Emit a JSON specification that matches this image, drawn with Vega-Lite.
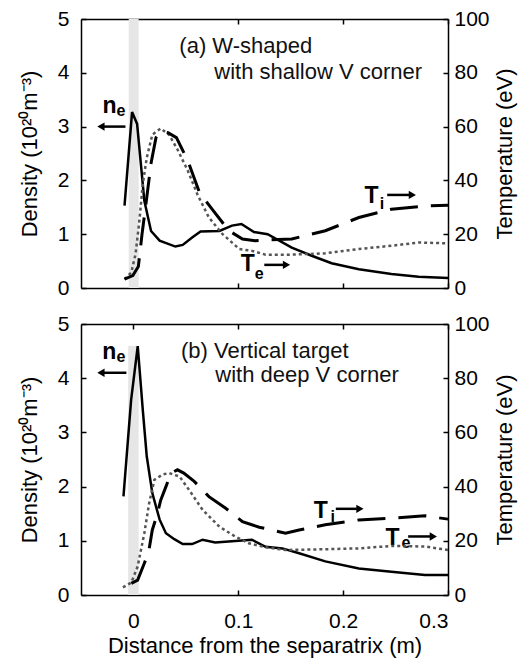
{
  "$schema": "https://vega.github.io/schema/vega-lite/v6.json",
  "padding": {"left": 18, "top": 8, "right": 5, "bottom": 2},
  "background": "white",
  "config": {
    "font": "Liberation Sans",
    "view": {"stroke": null},
    "axis": {
      "grid": false, "labelFontSize": 21, "titleFontSize": 22, "titleFontWeight": "normal",
      "labelColor": "black", "titleColor": "black", "domainColor": "black", "tickColor": "black",
      "tickSize": -5, "domainWidth": 1.5, "tickWidth": 1.5, "labelFont": "Liberation Sans", "titleFont": "Liberation Sans"
    },
    "axisLeft": {"labelPadding": 17, "titlePadding": 16},
    "axisRight": {"labelPadding": 11, "titlePadding": 27},
    "axisBottom": {"labelPadding": 20, "titlePadding": 4}
  },
  "datasets": {
    "a_ne": [
      {"x": -0.0085, "y": 1.53}, {"x": -0.0013, "y": 3.27}, {"x": 0.0035, "y": 3.05}, {"x": 0.0104, "y": 1.62},
      {"x": 0.0168, "y": 1.06}, {"x": 0.025, "y": 0.88}, {"x": 0.04, "y": 0.77}, {"x": 0.047, "y": 0.8},
      {"x": 0.056, "y": 0.94}, {"x": 0.064, "y": 1.05}, {"x": 0.082, "y": 1.06}, {"x": 0.094, "y": 1.16},
      {"x": 0.103, "y": 1.19}, {"x": 0.115, "y": 1.04}, {"x": 0.128, "y": 1.0}, {"x": 0.151, "y": 0.75},
      {"x": 0.17, "y": 0.6}, {"x": 0.189, "y": 0.46}, {"x": 0.215, "y": 0.35}, {"x": 0.246, "y": 0.26},
      {"x": 0.272, "y": 0.21}, {"x": 0.3, "y": 0.185}
    ],
    "a_te": [
      {"x": -0.0085, "T": 3.3}, {"x": -0.002, "T": 5.8}, {"x": 0.002, "T": 12.6}, {"x": 0.0057, "T": 25},
      {"x": 0.0089, "T": 38.6}, {"x": 0.0127, "T": 48.4}, {"x": 0.018, "T": 57}, {"x": 0.026, "T": 59.3},
      {"x": 0.034, "T": 57}, {"x": 0.042, "T": 51.5}, {"x": 0.052, "T": 43.5}, {"x": 0.061, "T": 34.8},
      {"x": 0.072, "T": 26.2}, {"x": 0.085, "T": 20}, {"x": 0.101, "T": 14.5}, {"x": 0.113, "T": 13.8},
      {"x": 0.126, "T": 12.4}, {"x": 0.151, "T": 12.4}, {"x": 0.183, "T": 12.9}, {"x": 0.215, "T": 14.5},
      {"x": 0.246, "T": 15.7}, {"x": 0.272, "T": 16.9}, {"x": 0.3, "T": 16.6}
    ],
    "a_ti": [
      {"x": -0.0085, "T": 3.3}, {"x": -0.0006, "T": 4.6}, {"x": 0.0047, "T": 8}, {"x": 0.0082, "T": 20},
      {"x": 0.0127, "T": 33.6}, {"x": 0.0168, "T": 46.4}, {"x": 0.0215, "T": 55.9}, {"x": 0.026, "T": 58.3},
      {"x": 0.033, "T": 57.7}, {"x": 0.041, "T": 55.9}, {"x": 0.052, "T": 47.2}, {"x": 0.063, "T": 35.5},
      {"x": 0.075, "T": 29.3}, {"x": 0.091, "T": 21.3}, {"x": 0.104, "T": 18.2}, {"x": 0.116, "T": 17.6},
      {"x": 0.126, "T": 17.8}, {"x": 0.151, "T": 18.2}, {"x": 0.183, "T": 21.3}, {"x": 0.215, "T": 26.2},
      {"x": 0.246, "T": 29.3}, {"x": 0.278, "T": 30.5}, {"x": 0.3, "T": 30.8}
    ],
    "b_ne": [
      {"x": -0.0095, "y": 1.82}, {"x": -0.0022, "y": 3.6}, {"x": 0.0041, "y": 4.59}, {"x": 0.0089, "y": 3.42},
      {"x": 0.0127, "y": 2.56}, {"x": 0.018, "y": 1.88}, {"x": 0.025, "y": 1.39}, {"x": 0.031, "y": 1.14},
      {"x": 0.039, "y": 1.03}, {"x": 0.047, "y": 0.94}, {"x": 0.056, "y": 0.94}, {"x": 0.066, "y": 1.02},
      {"x": 0.078, "y": 0.97}, {"x": 0.094, "y": 0.99}, {"x": 0.113, "y": 1.02}, {"x": 0.126, "y": 0.89},
      {"x": 0.142, "y": 0.86}, {"x": 0.158, "y": 0.77}, {"x": 0.183, "y": 0.62}, {"x": 0.215, "y": 0.49},
      {"x": 0.246, "y": 0.43}, {"x": 0.278, "y": 0.37}, {"x": 0.3, "y": 0.37}
    ],
    "b_te": [
      {"x": -0.01, "T": 2.8}, {"x": -0.002, "T": 4.6}, {"x": 0.004, "T": 10.5}, {"x": 0.0104, "T": 22.8},
      {"x": 0.015, "T": 33.9}, {"x": 0.02, "T": 42.5}, {"x": 0.028, "T": 44.5}, {"x": 0.034, "T": 45},
      {"x": 0.044, "T": 43.7}, {"x": 0.053, "T": 38.8}, {"x": 0.066, "T": 31.4}, {"x": 0.082, "T": 25.2},
      {"x": 0.097, "T": 21.6}, {"x": 0.11, "T": 19.1}, {"x": 0.126, "T": 17.6}, {"x": 0.145, "T": 16.6},
      {"x": 0.183, "T": 16.9}, {"x": 0.215, "T": 17.2}, {"x": 0.246, "T": 18.1}, {"x": 0.278, "T": 17.9},
      {"x": 0.3, "T": 16.6}
    ],
    "b_ti": [
      {"x": -0.002, "T": 4.3}, {"x": 0.004, "T": 5.5}, {"x": 0.0104, "T": 11.7}, {"x": 0.0146, "T": 16},
      {"x": 0.018, "T": 24}, {"x": 0.023, "T": 30.2}, {"x": 0.026, "T": 35}, {"x": 0.031, "T": 40},
      {"x": 0.036, "T": 45}, {"x": 0.042, "T": 46.2}, {"x": 0.048, "T": 45}, {"x": 0.058, "T": 41.9},
      {"x": 0.072, "T": 36.3}, {"x": 0.088, "T": 32}, {"x": 0.104, "T": 27.1}, {"x": 0.12, "T": 25},
      {"x": 0.132, "T": 24}, {"x": 0.145, "T": 22.8}, {"x": 0.158, "T": 24}, {"x": 0.183, "T": 25.9},
      {"x": 0.215, "T": 27.7}, {"x": 0.246, "T": 28.3}, {"x": 0.278, "T": 29.2}, {"x": 0.3, "T": 28}
    ],
    "a_band": [{"x": -0.0045, "x2": 0.005, "y": 0, "y2": 5}],
    "b_band": [{"x": -0.005, "x2": 0.005, "y": 0, "y2": 4.6}],
    "a_big": [{"x": -0.0229, "y": 3.26, "label": "n"}, {"x": 0.109, "y": 0.32, "label": "T"}, {"x": 0.227, "y": 1.585, "label": "T"}],
    "a_sub": [{"x": -0.0119, "y": 3.2, "label": "e"}, {"x": 0.12, "y": 0.17, "label": "e"}, {"x": 0.237, "y": 1.47, "label": "i"}],
    "a_arrows": [
      {"x": -0.0076, "x2": -0.031, "y": 3.0, "dir": "left"},
      {"x": 0.1248, "x2": 0.146, "y": 0.43, "dir": "right"},
      {"x": 0.242, "x2": 0.266, "y": 1.73, "dir": "right"}
    ],
    "a_title": [{"x": 0.0438, "y": 4.37, "label": "(a) W-shaped"}, {"x": 0.0771, "y": 3.88, "label": "with shallow V corner"}],
    "b_big": [{"x": -0.023, "y": 4.35, "label": "n"}, {"x": 0.1786, "y": 1.42, "label": "T"}, {"x": 0.247, "y": 0.92, "label": "T"}],
    "b_sub": [{"x": -0.0119, "y": 4.3, "label": "e"}, {"x": 0.19, "y": 1.35, "label": "i"}, {"x": 0.26, "y": 0.87, "label": "e"}],
    "b_arrows": [
      {"x": -0.0067, "x2": -0.031, "y": 4.1, "dir": "left"},
      {"x": 0.193, "x2": 0.216, "y": 1.59, "dir": "right"},
      {"x": 0.262, "x2": 0.286, "y": 1.08, "dir": "right"}
    ],
    "b_title": [{"x": 0.0454, "y": 4.37, "label": "(b) Vertical target"}, {"x": 0.0781, "y": 3.93, "label": "with deep V corner"}]
  },
  "vconcat": [
    {
      "width": 367, "height": 269,
      "layer": [
        {
          "encoding": {
            "x": {"field": "x", "type": "quantitative", "scale": {"domain": [-0.05, 0.3], "nice": false, "zero": false},
                  "axis": {"orient": "bottom", "values": [0, 0.1, 0.2, 0.3], "labels": false, "title": null}},
            "y": {"field": "y", "type": "quantitative", "scale": {"domain": [0, 5], "nice": false, "zero": false},
                  "axis": {"orient": "left", "values": [0, 1, 2, 3, 4, 5], "title": "Density (10²⁰m⁻³)"}}
          },
          "layer": [
            {"data": {"name": "a_band"}, "mark": {"type": "rect", "color": "#e6e6e6"}, "encoding": {"x2": {"field": "x2"}, "y2": {"field": "y2"}}},
            {"data": {"name": "a_ne"}, "mark": {"type": "line", "color": "black", "strokeWidth": 2.5}},
            {"data": {"name": "a_arrows"}, "mark": {"type": "rule", "color": "black", "strokeWidth": 2.5}, "encoding": {"x2": {"field": "x2"}}},
            {"data": {"name": "a_arrows"}, "mark": {"type": "point", "filled": true, "color": "black", "opacity": 1, "size": 70},
             "encoding": {"x": {"field": "x2", "type": "quantitative"},
                          "shape": {"field": "dir", "type": "nominal", "scale": {"domain": ["left", "right"], "range": ["triangle-left", "triangle-right"]}, "legend": null}}},
            {"data": {"name": "a_big"}, "mark": {"type": "text", "fontSize": 23, "fontWeight": "bold", "align": "center", "baseline": "alphabetic", "color": "black"}, "encoding": {"text": {"field": "label"}}},
            {"data": {"name": "a_sub"}, "mark": {"type": "text", "fontSize": 16, "fontWeight": "bold", "align": "center", "baseline": "alphabetic", "color": "black"}, "encoding": {"text": {"field": "label"}}},
            {"data": {"name": "a_title"}, "mark": {"type": "text", "fontSize": 22, "align": "left", "baseline": "alphabetic", "color": "#111"}, "encoding": {"text": {"field": "label"}}}
          ]
        },
        {
          "encoding": {
            "x": {"field": "x", "type": "quantitative", "scale": {"domain": [-0.05, 0.3], "nice": false, "zero": false},
                  "axis": {"orient": "top", "values": [0, 0.1, 0.2, 0.3], "labels": false, "title": null}},
            "y": {"field": "T", "type": "quantitative", "scale": {"domain": [0, 100], "nice": false, "zero": false},
                  "axis": {"orient": "right", "values": [0, 20, 40, 60, 80, 100], "title": "Temperature (eV)", "titleAngle": 270}}
          },
          "layer": [
            {"data": {"name": "a_te"}, "mark": {"type": "line", "color": "#555", "strokeWidth": 2.5, "strokeDash": [3, 3]}},
            {"data": {"name": "a_ti"}, "mark": {"type": "line", "color": "black", "strokeWidth": 3, "strokeDash": [28, 13]}}
          ]
        }
      ],
      "resolve": {"scale": {"x": "independent", "y": "independent"}}
    },
    {
      "width": 367, "height": 271,
      "layer": [
        {
          "encoding": {
            "x": {"field": "x", "type": "quantitative", "scale": {"domain": [-0.05, 0.3], "nice": false, "zero": false},
                  "axis": {"orient": "bottom", "values": [0, 0.1, 0.2, 0.3], "format": "~g", "title": "Distance from the separatrix (m)"}},
            "y": {"field": "y", "type": "quantitative", "scale": {"domain": [0, 5], "nice": false, "zero": false},
                  "axis": {"orient": "left", "values": [0, 1, 2, 3, 4, 5], "title": "Density (10²⁰m⁻³)"}}
          },
          "layer": [
            {"data": {"name": "b_band"}, "mark": {"type": "rect", "color": "#e6e6e6"}, "encoding": {"x2": {"field": "x2"}, "y2": {"field": "y2"}}},
            {"data": {"name": "b_ne"}, "mark": {"type": "line", "color": "black", "strokeWidth": 2.5}},
            {"data": {"name": "b_arrows"}, "mark": {"type": "rule", "color": "black", "strokeWidth": 2.5}, "encoding": {"x2": {"field": "x2"}}},
            {"data": {"name": "b_arrows"}, "mark": {"type": "point", "filled": true, "color": "black", "opacity": 1, "size": 70},
             "encoding": {"x": {"field": "x2", "type": "quantitative"},
                          "shape": {"field": "dir", "type": "nominal", "scale": {"domain": ["left", "right"], "range": ["triangle-left", "triangle-right"]}, "legend": null}}},
            {"data": {"name": "b_big"}, "mark": {"type": "text", "fontSize": 23, "fontWeight": "bold", "align": "center", "baseline": "alphabetic", "color": "black"}, "encoding": {"text": {"field": "label"}}},
            {"data": {"name": "b_sub"}, "mark": {"type": "text", "fontSize": 16, "fontWeight": "bold", "align": "center", "baseline": "alphabetic", "color": "black"}, "encoding": {"text": {"field": "label"}}},
            {"data": {"name": "b_title"}, "mark": {"type": "text", "fontSize": 22, "align": "left", "baseline": "alphabetic", "color": "#111"}, "encoding": {"text": {"field": "label"}}}
          ]
        },
        {
          "encoding": {
            "x": {"field": "x", "type": "quantitative", "scale": {"domain": [-0.05, 0.3], "nice": false, "zero": false},
                  "axis": {"orient": "top", "values": [0, 0.1, 0.2, 0.3], "labels": false, "title": null}},
            "y": {"field": "T", "type": "quantitative", "scale": {"domain": [0, 100], "nice": false, "zero": false},
                  "axis": {"orient": "right", "values": [0, 20, 40, 60, 80, 100], "title": "Temperature (eV)", "titleAngle": 270}}
          },
          "layer": [
            {"data": {"name": "b_te"}, "mark": {"type": "line", "color": "#555", "strokeWidth": 2.5, "strokeDash": [3, 3]}},
            {"data": {"name": "b_ti"}, "mark": {"type": "line", "color": "black", "strokeWidth": 3, "strokeDash": [28, 13]}}
          ]
        }
      ],
      "resolve": {"scale": {"x": "independent", "y": "independent"}}
    }
  ],
  "spacing": 15
}
